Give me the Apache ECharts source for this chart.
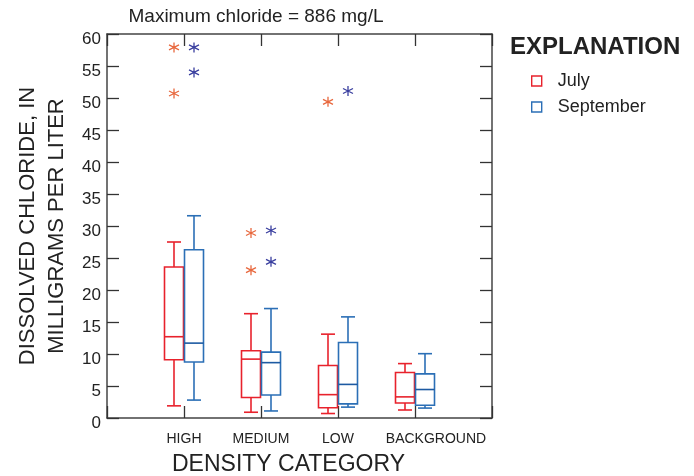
<!DOCTYPE html>
<html>
<head>
<meta charset="utf-8">
<script src="https://cdn.jsdelivr.net/npm/echarts@6/dist/echarts.min.js"></script>
<style>html,body{margin:0;padding:0;background:#fff;}#c{width:694px;height:476px;}</style>
</head>
<body>
<div id="c"></div>
<script>
// ---- data ----
const categories = ['HIGH', 'MEDIUM', 'LOW', 'BACKGROUND'];
// [min, Q1, median, Q3, max]
const julyBoxes = [
  [1.9, 9.1, 12.7, 23.6, 27.5],
  [0.9, 3.2, 9.2, 10.5, 16.3],
  [0.7, 1.6, 3.65, 8.2, 13.1],
  [1.25, 2.35, 3.3, 7.1, 8.5]
];
const septBoxes = [
  [2.8, 8.75, 11.7, 26.3, 31.6],
  [1.1, 3.6, 8.65, 10.3, 17.1],
  [1.7, 2.2, 5.25, 11.8, 15.8],
  [1.55, 2.0, 4.45, 6.9, 10.05]
];
// [category index (1-based), value]
const julyOutliers = [[1, 57.9], [1, 50.7], [2, 28.9], [2, 23.1], [3, 49.4]];
const septOutliers = [[1, 57.9], [1, 54.0], [2, 29.3], [2, 24.4], [3, 51.1]];
const yTicks = [0, 5, 10, 15, 20, 25, 30, 35, 40, 45, 50, 55, 60];

const RED = '#e8222c';
const BLUE = '#2b6fb6';
const BLUE_MED = '#1d5aa2';
const RED_OUT = '#e8683e';
const BLUE_OUT = '#3a3f9f';
const FONT = 'Liberation Sans, Arial, sans-serif';

function boxRenderer(offset, color, medColor) {
  return function (params, api) {
    const x = api.value(0);
    const pMin = api.coord([x, api.value(1)]);
    const pQ1 = api.coord([x, api.value(2)]);
    const pMed = api.coord([x, api.value(3)]);
    const pQ3 = api.coord([x, api.value(4)]);
    const pMax = api.coord([x, api.value(5)]);
    const cx = pMin[0] + offset;
    const hw = 9.5, cw = 7;
    const st = { stroke: color, lineWidth: 1.6, fill: null };
    const ms = { stroke: medColor, lineWidth: 1.6 };
    return {
      type: 'group',
      children: [
        { type: 'rect', shape: { x: cx - hw, y: pQ3[1], width: hw * 2, height: pQ1[1] - pQ3[1] }, style: st },
        { type: 'line', shape: { x1: cx, y1: pQ3[1], x2: cx, y2: pMax[1] }, style: st },
        { type: 'line', shape: { x1: cx, y1: pQ1[1], x2: cx, y2: pMin[1] }, style: st },
        { type: 'line', shape: { x1: cx - cw, y1: pMax[1], x2: cx + cw, y2: pMax[1] }, style: st },
        { type: 'line', shape: { x1: cx - cw, y1: pMin[1], x2: cx + cw, y2: pMin[1] }, style: st },
        { type: 'line', shape: { x1: cx - hw, y1: pMed[1], x2: cx + hw, y2: pMed[1] }, style: ms }
      ]
    };
  };
}

const julyData = julyBoxes.map((b, i) => [i + 1].concat(b));
const septData = septBoxes.map((b, i) => [i + 1].concat(b));

const STAR = 'path://M5,0L5,10M0.67,2.5L9.33,7.5M0.67,7.5L9.33,2.5';

const frameLine = { show: true, onZero: false, lineStyle: { color: '#444', width: 1.5 } };
const frameTick = { show: true, inside: true, length: 12, lineStyle: { color: '#333', width: 1.3 } };

const chart = echarts.init(document.getElementById('c'), null, { renderer: 'canvas' });
chart.setOption({
  animation: false,
  backgroundColor: '#fff',
  textStyle: { fontFamily: FONT },
  title: [
    {
      text: 'Maximum chloride = 886 mg/L', left: 256, top: 7, textAlign: 'center', padding: 0,
      textStyle: { fontSize: 19, fontWeight: 'normal', color: '#222', fontFamily: FONT }
    },
    {
      text: 'EXPLANATION', left: 510, top: 35, padding: 0,
      textStyle: { fontSize: 24, fontWeight: 'bold', color: '#222', fontFamily: FONT }
    }
  ],
  legend: {
    orient: 'vertical', left: 531, top: 72, padding: 0,
    itemWidth: 10, itemHeight: 10, itemGap: 8, icon: 'rect',
    textStyle: { fontSize: 18, color: '#222', fontFamily: FONT, padding: [0, 0, 0, 11] },
    data: [
      { name: 'July', itemStyle: { color: '#fff', borderColor: RED, borderWidth: 1.4 } },
      { name: 'September', itemStyle: { color: '#fff', borderColor: BLUE, borderWidth: 1.4 } }
    ]
  },
  grid: { left: 107, right: 202, top: 34, bottom: 58, containLabel: false, outerBoundsMode: 'none' },
  xAxis: [
    {
      type: 'value', min: 0, max: categories.length + 1, interval: 1,
      name: 'DENSITY CATEGORY', nameLocation: 'middle', nameGap: 35,
      nameTextStyle: { fontSize: 23, color: '#222', fontFamily: FONT, padding: [0, 22, 0, 0] },
      axisLine: frameLine,
      axisTick: frameTick,
      splitLine: { show: false },
      axisLabel: {
        margin: 14, fontSize: 14, color: '#222', fontFamily: FONT,
        formatter: function (v) {
          const c = categories[v - 1];
          if (!c) return '';
          return v === categories.length ? '{bg|' + c + '}' : c;
        },
        rich: { bg: { fontSize: 14, color: '#222', fontFamily: FONT, padding: [0, 0, 0, 42] } }
      }
    },
    {
      type: 'value', position: 'top', min: 0, max: categories.length + 1, interval: 1,
      axisLine: frameLine, axisTick: frameTick,
      axisLabel: { show: false }, splitLine: { show: false }
    }
  ],
  yAxis: [
    {
      type: 'value', min: yTicks[0], max: yTicks[yTicks.length - 1], interval: 5,
      name: 'DISSOLVED CHLORIDE, IN\nMILLIGRAMS PER LITER', nameLocation: 'middle', nameGap: 36,
      nameTextStyle: { fontSize: 22, color: '#222', fontFamily: FONT, lineHeight: 29 },
      axisLine: frameLine, axisTick: frameTick,
      axisLabel: { margin: 6, fontSize: 17, color: '#222', fontFamily: FONT, verticalAlign: 'top', lineHeight: 10 },
      splitLine: { show: false }
    },
    {
      type: 'value', position: 'right', min: yTicks[0], max: yTicks[yTicks.length - 1], interval: 5,
      axisLine: frameLine, axisTick: frameTick,
      axisLabel: { show: false }, splitLine: { show: false }
    }
  ],
  series: [
    {
      name: 'July', type: 'custom', xAxisIndex: 0, yAxisIndex: 0,
      renderItem: boxRenderer(-10, RED, RED),
      encode: { x: 0, y: [1, 2, 3, 4, 5] },
      itemStyle: { color: RED },
      data: julyData, z: 3
    },
    {
      name: 'September', type: 'custom', xAxisIndex: 0, yAxisIndex: 0,
      renderItem: boxRenderer(10, BLUE, BLUE_MED),
      encode: { x: 0, y: [1, 2, 3, 4, 5] },
      itemStyle: { color: BLUE },
      data: septData, z: 3
    },
    {
      name: 'July outliers', type: 'scatter', symbol: STAR, symbolSize: 10, symbolOffset: [-10, 0],
      itemStyle: { color: 'none', borderColor: RED_OUT, borderWidth: 1.3, opacity: 1 },
      data: julyOutliers, z: 4
    },
    {
      name: 'September outliers', type: 'scatter', symbol: STAR, symbolSize: 10, symbolOffset: [10, 0],
      itemStyle: { color: 'none', borderColor: BLUE_OUT, borderWidth: 1.3, opacity: 1 },
      data: septOutliers, z: 4
    }
  ]
});
</script>
</body>
</html>
